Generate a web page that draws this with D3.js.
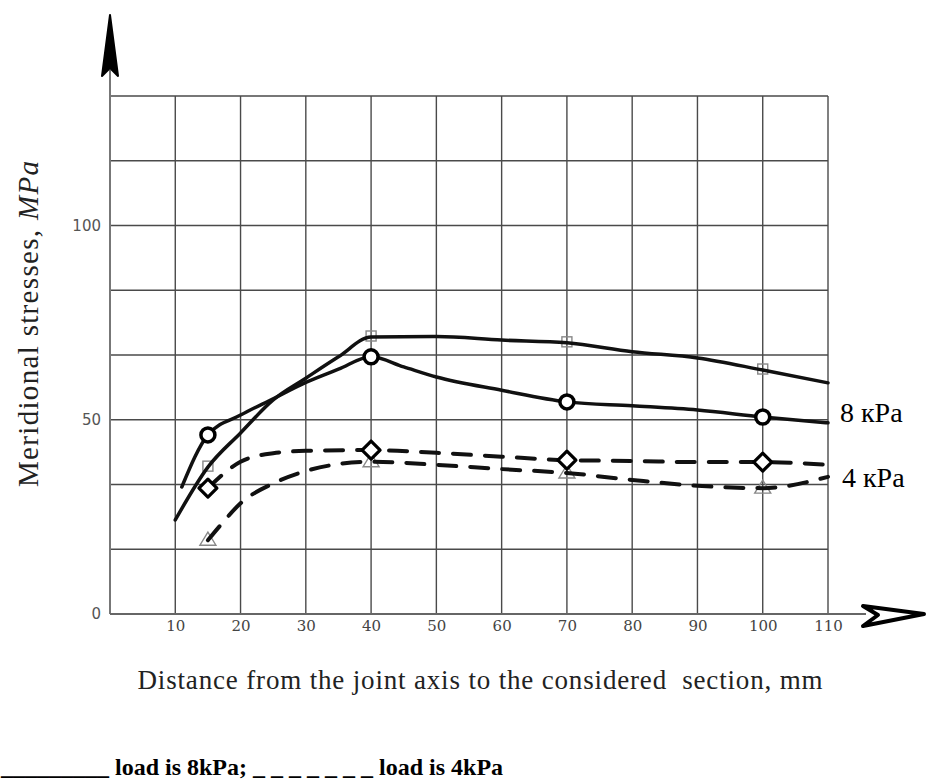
<!DOCTYPE html>
<html>
<head>
<meta charset="utf-8">
<script src="https://cdn.jsdelivr.net/npm/d3@7"></script>
<style>
  html, body { margin: 0; padding: 0; background: #fff; }
</style>
</head>
<body>
<svg id="chart"></svg>
<script>
// Tick labels
const xTicks = [10, 20, 30, 40, 50, 60, 70, 80, 90, 100, 110];
const yTicks = [0, 50, 100];
const yMax = 400 / 3;          // top grid line (8 cells of 50/3)
const xMax = 110;

// 8 kPa, squares (solid)
const sqX = [10, 15, 20, 25, 30, 35, 40, 50, 60, 70, 80, 90, 100, 110];
const sqY = [24.2, 37.8, 46.6, 55.1, 60.7, 66.2, 71.3, 71.4, 70.5, 69.8, 67.5, 65.9, 62.8, 59.5];
// 8 kPa, circles (solid)
const ciX = [11, 15, 20, 25, 30, 35, 40, 45, 50, 60, 70, 80, 90, 100, 110];
const ciY = [32.7, 46.1, 51.2, 55.4, 59.6, 63.0, 66.2, 63.6, 61.0, 57.6, 54.6, 53.6, 52.5, 50.7, 49.2];
// 4 kPa, diamonds (dashed)
const diX = [15, 20, 25, 30, 40, 50, 60, 70, 80, 90, 100, 110];
const diY = [32.4, 39.2, 41.4, 42.0, 42.2, 41.5, 40.5, 39.6, 39.4, 39.1, 39.1, 38.4];
// 4 kPa, triangles (dashed)
const trX = [15, 17, 20, 25, 30, 35, 40, 50, 60, 70, 80, 90, 100, 110];
const trY = [19.0, 23.0, 28.5, 33.6, 36.8, 38.6, 39.2, 38.4, 37.3, 36.3, 34.5, 33.0, 32.4, 35.3];

const markX = [15, 40, 70, 100];

const svgW = 928, svgH = 782;
const svg = d3.select("#chart").attr("width", svgW).attr("height", svgH);

const x = d3.scaleLinear().domain([0, xMax]).range([110, 828]);
const y = d3.scaleLinear().domain([0, yMax]).range([614, 96]);

const zip = (xs, ys) => xs.map((v, i) => ({ x: v, y: ys[i] }));
const pick = (xs, ys) => markX.map(m => ({ x: m, y: ys[xs.indexOf(m)] }));

// Grid
const grid = svg.append("g").attr("stroke", "#4a4a4a").attr("stroke-width", 1.4);
grid.selectAll(".gx").data(xTicks).join("line")
  .attr("x1", d => x(d)).attr("x2", d => x(d))
  .attr("y1", y(0)).attr("y2", y(yMax));
grid.selectAll(".gy").data(d3.range(1, 9).map(i => i * 50 / 3)).join("line")
  .attr("x1", x(0)).attr("x2", x(xMax))
  .attr("y1", d => y(d)).attr("y2", d => y(d));

// Axes lines + arrows
svg.append("line").attr("x1", x(0)).attr("x2", x(0)).attr("y1", y(0)).attr("y2", 70)
  .attr("stroke", "#777").attr("stroke-width", 2);
svg.append("line").attr("x1", x(0)).attr("x2", 866).attr("y1", y(0)).attr("y2", y(0))
  .attr("stroke", "#666").attr("stroke-width", 2);
svg.append("path").attr("d", "M110,15 L118,76 L110,68 L102,76 Z")
  .attr("fill", "#000").attr("stroke", "#000").attr("stroke-width", 2).attr("stroke-linejoin", "round");
svg.append("path").attr("d", "M863,606 L924,614 L863,626 L878,615 Z")
  .attr("fill", "#fff").attr("stroke", "#000").attr("stroke-width", 4).attr("stroke-linejoin", "round");

// Tick labels
const ax = svg.append("g").attr("transform", `translate(0,${y(0)})`)
  .call(d3.axisBottom(x).tickValues(xTicks).tickSize(0).tickPadding(6));
ax.select(".domain").remove();
ax.selectAll("text").attr("font-family", "DejaVu Serif, serif").attr("font-size", 15).attr("fill", "#444");

const ay = svg.append("g").attr("transform", `translate(${x(0)},0)`)
  .call(d3.axisLeft(y).tickValues(yTicks).tickSize(0).tickPadding(9));
ay.select(".domain").remove();
ay.selectAll("text").attr("font-family", "DejaVu Sans, sans-serif").attr("font-size", 15).attr("fill", "#555");

// Markers under lines (thin grey)
svg.selectAll(".sq").data(pick(sqX, sqY)).join("rect")
  .attr("x", d => x(d.x) - 5).attr("y", d => y(d.y) - 6).attr("width", 10).attr("height", 10)
  .attr("fill", "none").attr("stroke", "#888").attr("stroke-width", 1.4);
svg.selectAll(".tr").data(pick(trX, trY)).join("path")
  .attr("transform", d => `translate(${x(d.x)},${y(d.y)})`)
  .attr("d", "M0,-8 L8,5 L-8,5 Z")
  .attr("fill", "none").attr("stroke", "#888").attr("stroke-width", 1.4);

// Lines
const line = d3.line().x(d => x(d.x)).y(d => y(d.y)).curve(d3.curveMonotoneX);
const series = [
  { pts: zip(sqX, sqY), dash: null },
  { pts: zip(ciX, ciY), dash: null },
  { pts: zip(diX, diY), dash: "18,14" },
  { pts: zip(trX, trY), dash: "18,14" }
];
series.forEach(s => {
  svg.append("path").datum(s.pts)
    .attr("fill", "none").attr("stroke", "#111")
    .attr("stroke-width", s.dash ? 4 : 3.5)
    .attr("stroke-dasharray", s.dash)
    .attr("stroke-linecap", "round")
    .attr("d", line);
});

// Markers on top (bold)
svg.selectAll(".ci").data(pick(ciX, ciY)).join("circle")
  .attr("cx", d => x(d.x)).attr("cy", d => y(d.y)).attr("r", 7)
  .attr("fill", "#fff").attr("stroke", "#000").attr("stroke-width", 3.5);
svg.selectAll(".di").data(pick(diX, diY)).join("path")
  .attr("transform", d => `translate(${x(d.x)},${y(d.y)})`)
  .attr("d", "M0,-9 L9,0 L0,9 L-9,0 Z")
  .attr("fill", "#fff").attr("stroke", "#000").attr("stroke-width", 3.2).attr("stroke-linejoin", "round");

// Series labels
svg.append("text").attr("x", 840).attr("y", 422)
  .attr("font-family", "Liberation Serif, serif").attr("font-size", 28).text("8 кPa");
svg.append("text").attr("x", 842).attr("y", 487)
  .attr("font-family", "Liberation Serif, serif").attr("font-size", 28).text("4 кPa");

// Axis titles
const yt = svg.append("text")
  .attr("transform", "translate(38,324) rotate(-90)")
  .attr("text-anchor", "middle")
  .attr("font-family", "Liberation Serif, serif").attr("font-size", 29).attr("fill", "#222")
  .attr("textLength", 326).attr("lengthAdjust", "spacing");
yt.append("tspan").text("Meridional stresses, ");
yt.append("tspan").attr("font-style", "italic").text("MPa");

svg.append("text").attr("x", 480).attr("y", 689)
  .attr("text-anchor", "middle")
  .attr("font-family", "Liberation Serif, serif").attr("font-size", 27).attr("fill", "#222")
  .attr("xml:space", "preserve")
  .attr("textLength", 685).attr("lengthAdjust", "spacing")
  .text("Distance from the joint axis to the considered  section, mm");

// Legend note
svg.append("text").attr("x", 1).attr("y", 775)
  .attr("font-family", "Liberation Serif, serif").attr("font-size", 24).attr("font-weight", "bold")
  .attr("xml:space", "preserve")
  .text("_________ load is 8kPa; _ _ _ _ _ _ _ load is 4kPa");
</script>
</body>
</html>
